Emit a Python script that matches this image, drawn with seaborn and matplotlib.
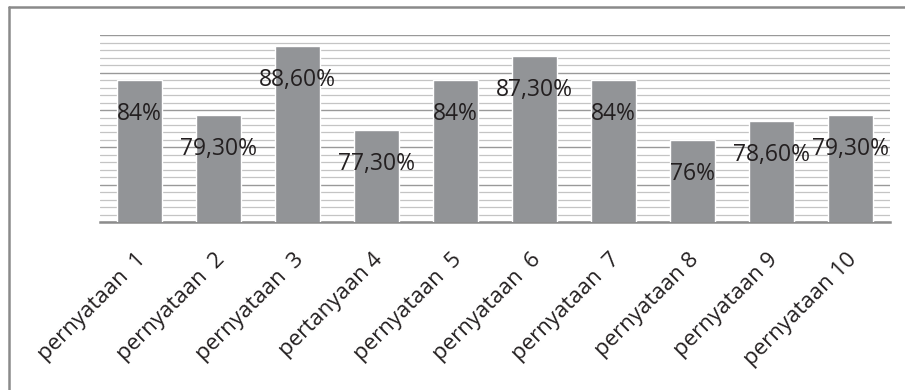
import matplotlib
matplotlib.use("Agg")
import matplotlib.pyplot as plt
from matplotlib.lines import Line2D
import matplotlib.transforms as mtransforms
import seaborn as sns
import pandas as pd
import numpy as np

categories = ["pernyataan  1", "pernyataan  2", "pernyataan  3", "pertanyaan 4",
              "pernyataan  5", "pernyataan  6", "pernyataan  7", "pernyataan 8",
              "pernyataan 9", "pernyataan 10"]
values = [84, 79.3, 88.6, 77.3, 84, 87.3, 84, 76, 78.6, 79.3]
value_labels = ["84%", "79,30%", "88,60%", "77,30%", "84%", "87,30%", "84%",
                "76%", "78,60%", "79,30%"]

sns.set_style("white")
plt.rcParams['font.family'] = ['Open Sans', 'DejaVu Sans']

df = pd.DataFrame({"cat": categories, "val": values})

fig = plt.figure(figsize=(9.05, 3.9), dpi=100)
ax = fig.add_axes([100/905, 1-222/390, 790/905, (222-35.5)/390])

sns.barplot(data=df, x="cat", y="val", color="#929497", saturation=1,
            width=0.57, ax=ax, zorder=3)

ax.set_ylim(65, 90)
ax.set_xlim(-0.5, len(categories) - 0.5)
ax.set_yticks(np.arange(65, 91, 5))
ax.set_yticks(np.arange(65, 91, 1), minor=True)
ax.yaxis.grid(True, which="minor", color="#c4c4c4", linewidth=0.9, zorder=0)
ax.yaxis.grid(True, which="major", color="#999999", linewidth=1.0, zorder=0)
ax.set_axisbelow(True)
ax.tick_params(axis="y", which="both", left=False, labelleft=False)
ax.tick_params(axis="x", bottom=False, pad=0)
for s in ["top", "right", "left"]:
    ax.spines[s].set_visible(False)
ax.spines["bottom"].set_color("#8c8c8c")
ax.spines["bottom"].set_linewidth(1.8)
ax.set_xlabel("")
ax.set_ylabel("")

ax.set_xticks(range(len(categories)))
ax.set_xticklabels(categories, rotation=45, ha="right", rotation_mode="anchor",
                   fontsize=16, color="#231f20")
for lbl in ax.get_xticklabels():
    lbl.set_transform(lbl.get_transform() + mtransforms.ScaledTranslation(-0.04, -0.22, fig.dpi_scale_trans))

for i, (v, t) in enumerate(zip(values, value_labels)):
    ax.annotate(t, xy=(i, v), xytext=(0, -24.5), textcoords="offset points",
                ha="center", va="center", fontsize=16.5, color="#231f20", zorder=5)

# figure border (top and left)
fig.add_artist(Line2D([9/905, 1], [1-7/390, 1-7/390], color="#8a8a8a", linewidth=1.8,
                      transform=fig.transFigure))
fig.add_artist(Line2D([9/905, 9/905], [0, 1-7/390], color="#8a8a8a", linewidth=1.8,
                      transform=fig.transFigure))

fig.savefig("out.png", dpi=100)
